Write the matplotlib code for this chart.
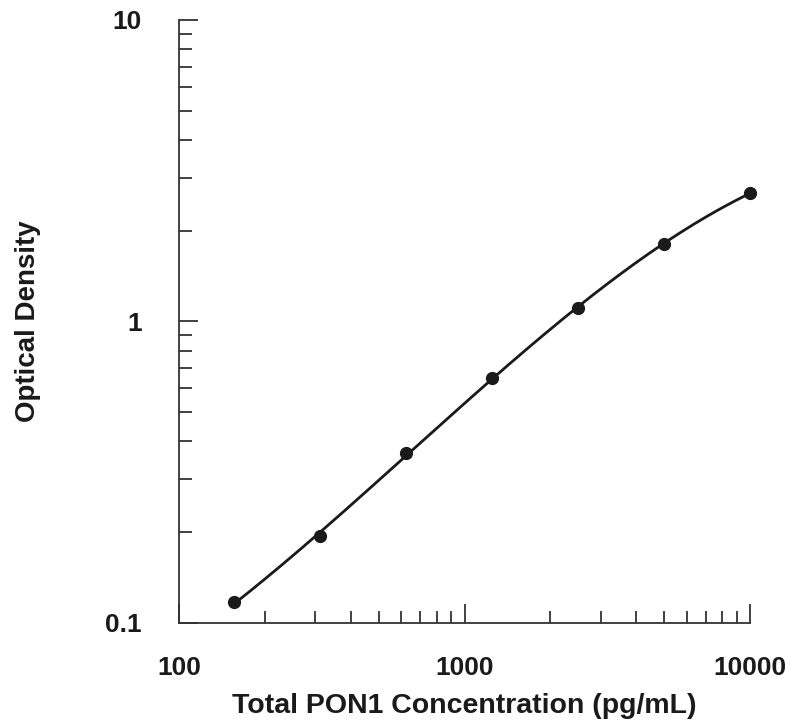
import matplotlib
matplotlib.use("Agg")
import matplotlib.pyplot as plt
from matplotlib.ticker import LogLocator, FixedLocator, NullFormatter
import numpy as np

# standard curve readings
concentration = [156.25, 312.5, 625, 1250, 2500, 5000, 10000]
optical_density = [0.117, 0.195, 0.366, 0.650, 1.11, 1.81, 2.67]
x_ticks = [100, 1000, 10000]
x_tick_labels = ["100", "1000", "10000"]
y_ticks = [0.1, 1, 10]
y_tick_labels = ["0.1", "1", "10"]

plt.rcParams["font.family"] = ["Liberation Sans", "DejaVu Sans"]

fig = plt.figure(figsize=(7.9, 7.26), dpi=100)
ax = fig.add_axes([0.2266, 0.1419, 0.7228, 0.8306])

# smooth fit in log-log space
lx = np.log10(concentration)
ly = np.log10(optical_density)
coef = np.polyfit(lx, ly, 3)
xs = np.linspace(lx[0], lx[-1], 300)
ax.plot(10 ** xs, 10 ** np.polyval(coef, xs), color="#1a1a1a", lw=2.0, clip_on=False)
ax.plot(concentration, optical_density, "o", color="#1a1a1a", ms=8.5, clip_on=False)

ax.set_xscale("log")
ax.set_yscale("log")
ax.set_xlim(100, 10000)
ax.set_ylim(0.1, 10)

for s in ["top", "right"]:
    ax.spines[s].set_visible(False)
for s in ["left", "bottom"]:
    ax.spines[s].set_linewidth(1.3)
    ax.spines[s].set_color("#333333")

ax.xaxis.set_major_locator(FixedLocator(x_ticks))
ax.yaxis.set_major_locator(FixedLocator(y_ticks))
ax.set_xticklabels(x_tick_labels)
ax.set_yticklabels(y_tick_labels)
ax.xaxis.set_minor_locator(LogLocator(base=10, subs=np.arange(2, 10)))
ax.yaxis.set_minor_locator(LogLocator(base=10, subs=np.arange(2, 10)))
ax.xaxis.set_minor_formatter(NullFormatter())
ax.yaxis.set_minor_formatter(NullFormatter())

ax.tick_params(which="major", direction="in", length=14, width=1.3, color="#333333",
               labelsize=19)
ax.tick_params(which="minor", direction="in", length=9, width=1.3, color="#333333")
ax.tick_params(axis="x", which="major", pad=24)
ax.tick_params(axis="y", which="major", pad=27)
for lab in ax.get_xticklabels() + ax.get_yticklabels():
    lab.set_fontweight("bold")
    lab.set_color("#1a1a1a")

ax.set_xlabel("Total PON1 Concentration (pg/mL)", fontsize=20.5, fontweight="bold",
              color="#1a1a1a")
ax.set_ylabel("Optical Density", fontsize=20, fontweight="bold", color="#1a1a1a")
ax.xaxis.set_label_coords(0.5, -0.116)
ax.yaxis.set_label_coords(-0.241, 0.5)

fig.savefig("out.png", dpi=100)
